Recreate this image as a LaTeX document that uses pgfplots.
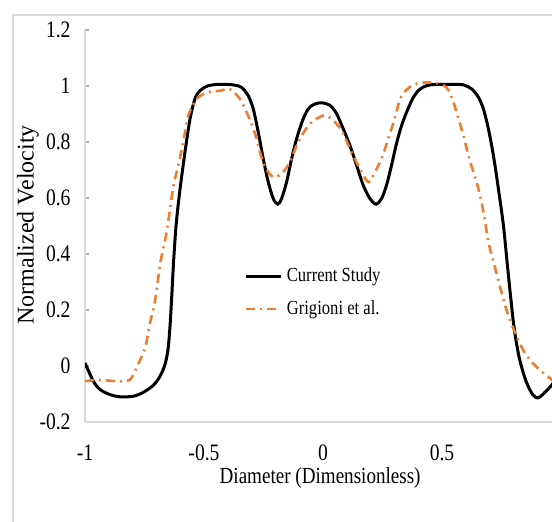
\documentclass[border=0pt]{standalone}
\usepackage{fontspec}
\setmainfont{Liberation Serif}[FakeStretch=0.83]
\newfontfamily\ylabfont{Liberation Serif}
\usepackage{pgfplots}
\pgfplotsset{compat=1.18}
\definecolor{grig}{HTML}{ED7D31}
\definecolor{axgray}{HTML}{D9D9D9}

\begin{document}
\begin{tikzpicture}
\useasboundingbox (0,0) rectangle (276pt,260.5pt);
\clip (0,0) rectangle (276pt,260.5pt);
\draw[axgray, line width=0.8pt] (6.5pt,-5pt) -- (6.5pt,253pt) -- (290pt,253pt);
\begin{axis}[
    at={(42.5pt,49.5pt)}, anchor=south west,
    scale only axis, width=238pt, height=196pt,
    xmin=-1, xmax=1, ymin=-0.2, ymax=1.2,
    axis x line=bottom, axis y line=left,
    axis line style={axgray, line width=0.9pt, -},
    xtick={-1,-0.5,0,0.5},
    minor xtick={-0.8,-0.6,-0.4,-0.2,0,0.3,0.5,0.7,0.9},
    ytick={-0.2,0,0.2,0.4,0.6,0.8,1,1.2},
    tick align=inside,
    major tick length=2pt, minor tick length=2.5pt,
    every tick/.style={axgray!80!black, line width=0.6pt},
    xtick style={draw=none},
    /pgf/number format/assume math mode=true,
    ticklabel style={font=\fontsize{11.8}{13}\selectfont},
    yticklabel style={xshift=-3.7pt},
    xticklabel style={yshift=-8pt},
    xlabel={Diameter (Dimensionless)},
    ylabel={\ylabfont\fontsize{12}{14}\selectfont Normalized Velocity},
    xlabel style={font=\fontsize{11.5}{13}\selectfont, at={(axis description cs:0.494,-0.143)}, anchor=center},
    ylabel style={at={(axis description cs:-0.12,0.503)}, anchor=center},
    legend style={at={(rel axis cs:0.335,0.405)}, anchor=north west, draw=none, fill=none,
        font=\fontsize{10}{12}\selectfont, row sep=4pt, inner sep=0pt},
    legend cell align=left,
    legend image code/.code={\draw[#1] (0pt,0pt) -- (17.5pt,0pt);},
]

\addplot[black, line width=1.5pt, smooth, tension=0.5] coordinates {
(-1,0.011)(-0.965,-0.054)(-0.937,-0.084)(-0.895,-0.102)(-0.853,-0.110)
(-0.797,-0.108)(-0.755,-0.094)(-0.713,-0.069)(-0.685,-0.037)(-0.664,0.005)
(-0.651,0.060)(-0.643,0.140)(-0.636,0.240)(-0.628,0.370)(-0.617,0.505)
(-0.601,0.630)(-0.580,0.763)(-0.559,0.881)(-0.538,0.954)(-0.517,0.983)
(-0.482,1.001)(-0.433,1.006)(-0.377,1.004)(-0.342,0.995)(-0.314,0.965)
(-0.293,0.918)(-0.272,0.835)(-0.251,0.740)(-0.230,0.657)(-0.209,0.598)
(-0.190,0.578)(-0.174,0.598)(-0.153,0.657)(-0.132,0.740)(-0.111,0.811)
(-0.083,0.883)(-0.055,0.925)(-0.013,0.940)(0.029,0.931)(0.057,0.901)
(0.085,0.847)(0.113,0.788)(0.141,0.717)(0.169,0.646)(0.197,0.598)
(0.223,0.578)(0.246,0.598)(0.267,0.646)(0.288,0.717)(0.309,0.795)
(0.330,0.858)(0.352,0.908)(0.380,0.960)(0.408,0.989)(0.450,1.004)
(0.534,1.006)(0.590,1.004)(0.625,0.989)(0.653,0.960)(0.674,0.918)
(0.695,0.847)(0.716,0.752)(0.737,0.633)(0.758,0.503)(0.772,0.384)
(0.788,0.250)(0.804,0.130)(0.825,0.028)(0.853,-0.054)(0.881,-0.102)
(0.902,-0.114)(0.923,-0.102)(0.962,-0.067)(1,-0.02)
};
\addlegendentry{Current Study}

\addplot[grig, line width=1.3pt, smooth, tension=0.5,
    dash pattern=on 4.5pt off 2.5pt on 1pt off 2.5pt] coordinates {
(-1,-0.054)(-0.95,-0.050)(-0.90,-0.052)(-0.85,-0.055)(-0.81,-0.048)
(-0.783,-0.005)(-0.748,0.064)(-0.727,0.153)(-0.706,0.231)(-0.683,0.370)
(-0.657,0.479)(-0.629,0.640)(-0.608,0.716)(-0.587,0.800)(-0.566,0.894)
(-0.531,0.954)(-0.482,0.978)(-0.433,0.983)(-0.391,0.989)(-0.349,0.954)
(-0.321,0.906)(-0.300,0.865)(-0.279,0.811)(-0.265,0.764)(-0.244,0.711)
(-0.209,0.675)(-0.174,0.687)(-0.139,0.728)(-0.104,0.800)(-0.055,0.865)
(0.001,0.894)(0.036,0.883)(0.078,0.841)(0.113,0.776)(0.148,0.716)
(0.190,0.657)(0.218,0.693)(0.246,0.740)(0.274,0.811)(0.303,0.889)
(0.324,0.954)(0.350,0.985)(0.387,1.007)(0.463,1.013)(0.519,0.995)
(0.548,0.942)(0.569,0.883)(0.590,0.823)(0.611,0.752)(0.632,0.693)
(0.653,0.633)(0.674,0.551)(0.695,0.444)(0.709,0.396)(0.769,0.206)
(0.811,0.111)(0.853,0.040)(0.909,-0.013)(0.962,-0.049)(1,-0.070)
};
\addlegendentry{Grigioni et al.}

\end{axis}
\end{tikzpicture}
\end{document}
